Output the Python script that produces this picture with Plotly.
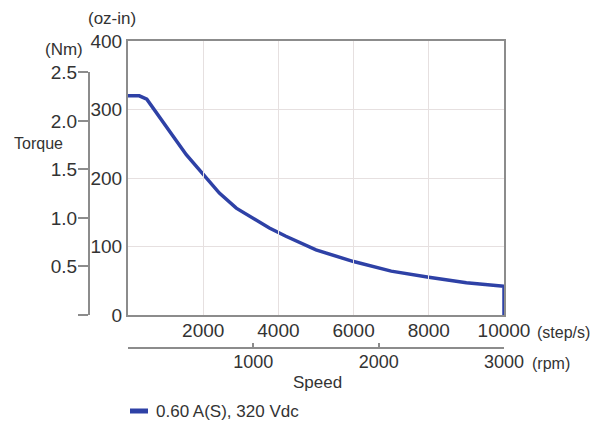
import plotly.graph_objects as go

# ---- data ----
speed_steps = [0, 300, 500, 660, 930, 1200, 1550, 2000, 2430, 2880, 3320, 3760,
               4200, 5000, 6000, 7000, 8000, 9000, 10000, 10000]
torque_ozin = [320, 320, 315, 303, 281, 261, 234, 205, 178, 156, 142, 127,
               115, 95, 78, 64, 55, 47, 42, 0]
series_name = "0.60 A(S), 320 Vdc"

x_ticks = [2000, 4000, 6000, 8000, 10000]
y_ticks = [0, 100, 200, 300, 400]
nm_ticks = [0, 0.5, 1.0, 1.5, 2.0, 2.5]
nm_labels = ["", "0.5", "1.0", "1.5", "2.0", "2.5"]
rpm_ticks = [0, 1000, 2000, 3000]
rpm_labels = ["", "1000", "2000", "3000"]

OZIN_PER_NM = 141.612
RPM_PER_STEP = 0.3

# ---- geometry ----
W, H = 597, 426
ML, MR, MT, MB = 40, 93, 41, 40
PW = W - ML - MR
PH = H - MT - MB


def px(xp):
    return (xp - ML) / PW


def py(yp):
    return (H - MB - yp) / PH


x0 = px(128)
ybot = py(315)
nm_top = ybot + (2.5 * OZIN_PER_NM / 400) * (1 - ybot)

FONT = "Liberation Sans, Arial, sans-serif"
TXT = "#333333"
AX = "#8c8c8c"
GRID = "#e6e0e0"
BLUE = "#2e41a6"

fig = go.Figure()
fig.add_trace(go.Scatter(
    x=speed_steps, y=torque_ozin, mode="lines", name=series_name,
    line=dict(color=BLUE, width=3.5), xaxis="x", yaxis="y", showlegend=False,
))
# invisible traces to activate the secondary (unit-conversion) axes
fig.add_trace(go.Scatter(
    x=[s * RPM_PER_STEP for s in speed_steps], y=torque_ozin, mode="lines",
    line=dict(color="rgba(0,0,0,0)"), showlegend=False, hoverinfo="skip",
    xaxis="x2", yaxis="y",
))
fig.add_trace(go.Scatter(
    x=speed_steps, y=[t / OZIN_PER_NM for t in torque_ozin], mode="lines",
    line=dict(color="rgba(0,0,0,0)"), showlegend=False, hoverinfo="skip",
    xaxis="x", yaxis="y2",
))

fig.update_layout(
    width=W, height=H,
    margin=dict(l=ML, r=MR, t=MT, b=MB, autoexpand=False),
    paper_bgcolor="white", plot_bgcolor="rgba(0,0,0,0)",
    font=dict(family=FONT, color=TXT, size=18),
    showlegend=False,
    xaxis=dict(
        domain=[x0, 1], range=[0, 10000], anchor="y",
        tickvals=x_ticks, ticktext=[str(v) for v in x_ticks],
        showgrid=True, gridcolor=GRID, gridwidth=1,
        showline=True, linecolor=AX, linewidth=2, mirror=True,
        ticks="", zeroline=False, tickfont=dict(size=19),
        ticklabelstandoff=-3,
    ),
    yaxis=dict(
        domain=[ybot, 1], range=[0, 400], anchor="x",
        tickvals=y_ticks, ticktext=[str(v) for v in y_ticks],
        showgrid=True, gridcolor=GRID, gridwidth=1,
        showline=True, linecolor=AX, linewidth=2, mirror=True,
        ticks="", zeroline=False, tickfont=dict(size=19),
        ticklabelstandoff=0,
    ),
    xaxis2=dict(
        overlaying="x", anchor="free", position=py(348),
        domain=[x0, 1], range=[0, 3000], side="bottom",
        tickvals=rpm_ticks, ticktext=rpm_labels,
        showgrid=False, zeroline=False,
        showline=True, linecolor=AX, linewidth=2,
        ticks="inside", ticklen=4, tickcolor=AX, tickwidth=1.5,
        tickfont=dict(size=18), ticklabelstandoff=-3,
    ),
    yaxis2=dict(
        anchor="free", position=px(89),
        domain=[ybot, nm_top], range=[0, 2.5], side="left",
        tickvals=nm_ticks, ticktext=nm_labels,
        showgrid=False, zeroline=False,
        showline=True, linecolor=AX, linewidth=2,
        ticks="outside", ticklen=10, tickcolor=AX, tickwidth=1.5,
        tickfont=dict(size=19), ticklabelstandoff=-3,
    ),
)

ann = [
    ("(oz-in)", 112, 18, 17),
    ("(Nm)", 64, 49, 17),
    ("Torque", 38, 143, 16),
    ("(step/s)", 563, 332, 16),
    ("(rpm)", 551, 363, 16),
    ("Speed", 317, 382, 17),
]
for text, ax_, ay_, sz in ann:
    fig.add_annotation(text=text, x=px(ax_), y=py(ay_), xref="paper", yref="paper",
                       showarrow=False, xanchor="center", yanchor="middle",
                       font=dict(size=sz, color=TXT, family=FONT))

# legend key (short line + label)
fig.add_shape(type="line", xref="paper", yref="paper",
              x0=px(130), x1=px(148), y0=py(411), y1=py(411),
              line=dict(color=BLUE, width=5))
fig.add_annotation(text=series_name, x=px(154), y=py(411), xref="paper", yref="paper",
                   showarrow=False, xanchor="left", yanchor="middle",
                   font=dict(size=17, color=TXT, family=FONT))

fig.write_html("out.html", config={"displayModeBar": False},
               post_script="document.body.style.margin='0';")
